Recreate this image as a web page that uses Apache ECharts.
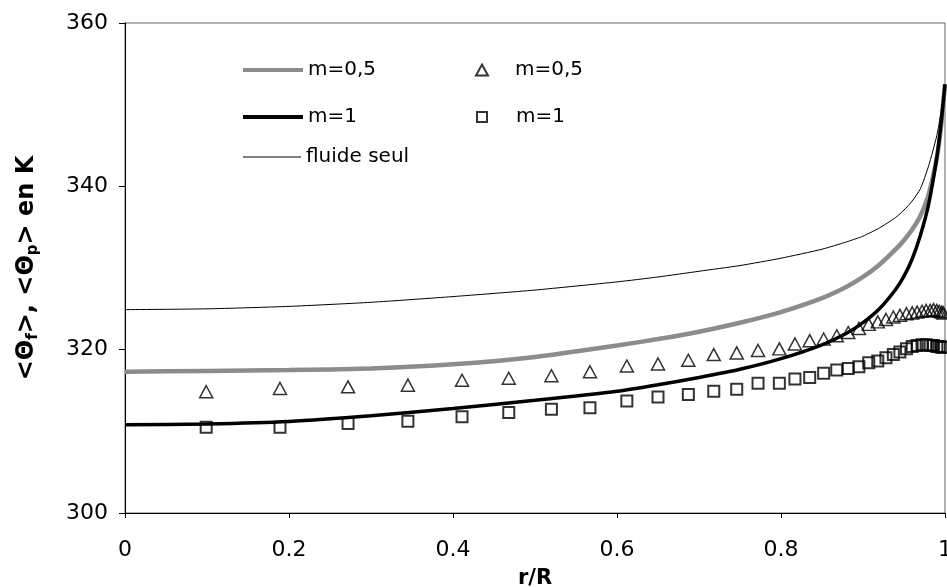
<!DOCTYPE html>
<html>
<head>
<meta charset="utf-8">
<script src="https://cdn.jsdelivr.net/npm/echarts@6/dist/echarts.min.js"></script>
<style>html,body{margin:0;padding:0;background:#fff}#c{width:947px;height:587px}</style>
</head>
<body>
<div id="c"></div>
<script>
// Curve abscissae (r/R)
const curveX = [0, 0.1, 0.2, 0.3, 0.4, 0.5, 0.6, 0.65, 0.7, 0.75, 0.8, 0.85, 0.88, 0.9, 0.92, 0.94, 0.95, 0.96, 0.97, 0.98, 0.99, 0.995, 1.0];
const lineM05 = [317.3, 317.4, 317.5, 317.7, 318.2, 319.1, 320.5, 321.3, 322.2, 323.3, 324.6, 326.3, 327.7, 328.9, 330.4, 332.3, 333.4, 334.7, 336.4, 339.0, 343.5, 347.2, 352.5];
const lineM1 = [310.8, 310.9, 311.2, 311.9, 312.8, 313.8, 314.9, 315.7, 316.6, 317.6, 318.9, 320.6, 322.0, 323.3, 325.0, 327.4, 329.0, 331.1, 334.0, 337.8, 343.5, 347.5, 352.5];
const lineFluide = [324.9, 325.0, 325.3, 325.8, 326.5, 327.3, 328.3, 328.9, 329.6, 330.3, 331.2, 332.3, 333.2, 333.9, 334.9, 336.2, 337.1, 338.2, 339.7, 342.5, 346.2, 349.0, 352.5];

// Particle points abscissae
const pointX = [0.099, 0.189, 0.272, 0.345, 0.411, 0.468, 0.520, 0.567, 0.612, 0.650, 0.687, 0.718, 0.746, 0.772, 0.798, 0.817, 0.835, 0.852, 0.868, 0.882, 0.895, 0.907, 0.918, 0.928, 0.937, 0.945, 0.953, 0.960, 0.966, 0.972, 0.977, 0.982, 0.986, 0.990, 0.993, 0.996, 0.998];
const pointsM05 = [314.85, 315.25, 315.45, 315.65, 316.25, 316.5, 316.8, 317.3, 318.0, 318.25, 318.7, 319.4, 319.6, 319.9, 320.1, 320.7, 321.1, 321.3, 321.7, 322.1, 322.6, 323.1, 323.4, 323.7, 324.0, 324.2, 324.4, 324.5, 324.6, 324.7, 324.8, 324.8, 324.9, 324.8, 324.7, 324.6, 324.5];
const pointsM1 = [310.5, 310.5, 310.95, 311.25, 311.8, 312.3, 312.7, 312.9, 313.7, 314.2, 314.5, 314.9, 315.15, 315.9, 315.9, 316.4, 316.6, 317.1, 317.5, 317.7, 317.9, 318.4, 318.6, 319.0, 319.4, 319.7, 320.1, 320.4, 320.5, 320.6, 320.6, 320.5, 320.5, 320.4, 320.4, 320.3, 320.3];

const xTicks = ['0', '0.2', '0.4', '0.6', '0.8', '1'];
const yTicks = ['300', '320', '340', '360'];

const zip = (xs, ys) => xs.map((x, i) => [x, ys[i]]);
const FONT = 'DejaVu Sans, sans-serif';
const legText = { fontFamily: FONT, fontSize: 20, color: '#000', lineHeight: 22 };

const chart = echarts.init(document.getElementById('c'));
chart.setOption({
  animation: false,
  backgroundColor: '#fff',
  grid: { left: 125, right: 2, top: 23, bottom: 74, show: true, borderColor: '#666', borderWidth: 1,
          containLabel: false, outerBoundsMode: 'none' },
  xAxis: {
    type: 'value', min: 0, max: 1, interval: 0.2,
    name: 'r/R', nameLocation: 'middle', nameGap: 55,
    nameTextStyle: { fontFamily: FONT, fontSize: 21, fontWeight: 'bold', color: '#000' },
    axisLine: { lineStyle: { color: '#000', width: 1 } },
    axisTick: { show: true, inside: false, length: 5, lineStyle: { color: '#000' } },
    axisLabel: { margin: 26, fontFamily: FONT, fontSize: 22, color: '#000',
      formatter: v => xTicks[Math.round(v / 0.2)] },
    splitLine: { show: false }
  },
  yAxis: {
    type: 'value', min: 300, max: 360, interval: 20,
    name: '{b|<Θ}{s|f}{b|>, <Θ}{s|p}{b|> en K}', nameLocation: 'middle', nameGap: 84,
    nameRotate: 90,
    nameTextStyle: {
      rich: {
        b: { fontFamily: FONT, fontSize: 24, fontWeight: 'bold', color: '#000', lineHeight: 28, verticalAlign: 'middle' },
        s: { fontFamily: FONT, fontSize: 15, fontWeight: 'bold', color: '#000', lineHeight: 28, verticalAlign: 'bottom', padding: [11, 0, 0, 0] }
      }
    },
    axisLine: { show: true, lineStyle: { color: '#000', width: 1 } },
    axisTick: { show: true, inside: false, length: 6, lineStyle: { color: '#000' } },
    axisLabel: { margin: 17, fontFamily: FONT, fontSize: 22, color: '#000',
      formatter: v => yTicks[Math.round((v - 300) / 20)] },
    splitLine: { show: false }
  },
  legend: [
    { data: ['m=0,5'], left: 238, top: 54, icon: 'rect', itemWidth: 60, itemHeight: 4, textStyle: legText },
    { data: ['m=1'], left: 238, top: 101, icon: 'rect', itemWidth: 60, itemHeight: 4, textStyle: legText },
    { data: ['fluide seul'], left: 238, top: 141, icon: 'rect', itemWidth: 58, itemHeight: 1, textStyle: legText },
    { data: ['m=0,5 '], left: 470, top: 54, itemWidth: 12, itemHeight: 11,
      textStyle: Object.assign({ padding: [0, 0, 0, 22] }, legText), formatter: n => n.trim() },
    { data: ['m=1 '], left: 471, top: 101, itemWidth: 10, itemHeight: 10,
      textStyle: Object.assign({ padding: [0, 0, 0, 24] }, legText), formatter: n => n.trim() }
  ],
  series: [
    { name: 'm=0,5', type: 'line', data: zip(curveX, lineM05), symbol: 'none', smooth: 0.2,
      lineStyle: { color: '#8c8c8c', width: 4.5 }, itemStyle: { color: '#8c8c8c' }, z: 3 },
    { name: 'm=1', type: 'line', data: zip(curveX, lineM1), symbol: 'none', smooth: 0.2,
      lineStyle: { color: '#000', width: 3.5 }, itemStyle: { color: '#000' }, z: 4 },
    { name: 'fluide seul', type: 'line', data: zip(curveX, lineFluide), symbol: 'none', smooth: 0.2,
      lineStyle: { color: '#000', width: 1 }, itemStyle: { color: '#000' }, z: 3 },
    { name: 'm=0,5 ', type: 'scatter', data: zip(pointX, pointsM05), symbol: 'triangle', symbolSize: [13, 12],
      itemStyle: { color: 'rgba(255,255,255,0)', borderColor: '#000', borderWidth: 1.5 }, z: 5 },
    { name: 'm=1 ', type: 'scatter', data: zip(pointX, pointsM1), symbol: 'rect', symbolSize: 11,
      itemStyle: { color: 'rgba(255,255,255,0)', borderColor: '#000', borderWidth: 2 }, z: 5 }
  ]
});
</script>
</body>
</html>
